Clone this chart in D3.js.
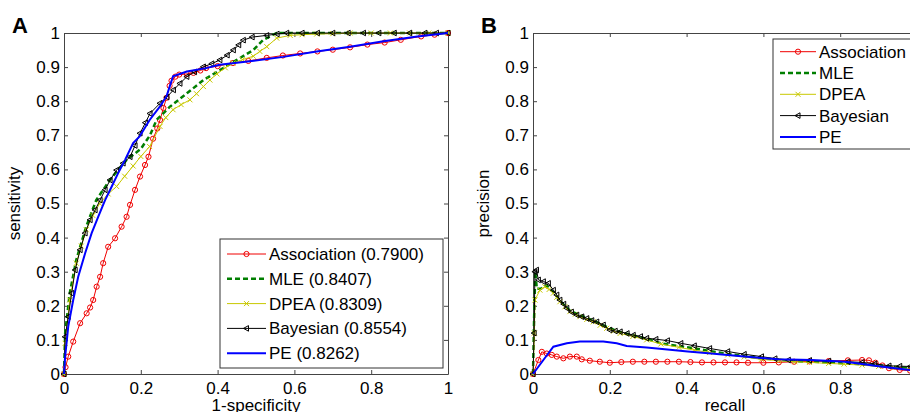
<!DOCTYPE html>
<html lang="en">
<head>
    <meta charset="UTF-8">
    <title>ROC and precision-recall</title>
    <script src="https://d3js.org/d3.v7.min.js"></script>
    <style>
        body { margin: 0; background: #fff; }
        svg { font-family: "Liberation Sans", Arial, sans-serif; }
        .tick text { font-size: 17px; fill: #000; }
        .tick line, .domain { stroke: #444; }
        .axis-label { font-size: 17px; }
        .panel-letter { font-size: 22px; font-weight: bold; }
        .legend text { font-size: 17px; }
    </style>
</head>
<body>
    <div id="chart"></div>

    <script>
        // series names, in drawing order
        const seriesNames = ["Association", "MLE", "DPEA", "Bayesian", "PE"];
        const aucLabels = ["0.7900", "0.8407", "0.8309", "0.8554", "0.8262"];
        const tickVals = [0, 0.1, 0.2, 0.3, 0.4, 0.5, 0.6, 0.7, 0.8, 0.9, 1];
        const xTickVals = [0, 0.2, 0.4, 0.6, 0.8, 1];

        // panel A: [1-specificity, sensitivity]
        const rocAssociation = [[0,0],[0.004,0.02],[0.011,0.051],[0.024,0.095],[0.042,0.149],[0.059,0.178],[0.068,0.195],[0.076,0.217],[0.085,0.256],[0.094,0.285],[0.102,0.325],[0.115,0.373],[0.133,0.398],[0.15,0.432],[0.163,0.461],[0.172,0.496],[0.185,0.54],[0.198,0.579],[0.211,0.613],[0.22,0.637],[0.232,0.69],[0.243,0.72],[0.25,0.745],[0.259,0.78],[0.267,0.81],[0.275,0.845],[0.28,0.86],[0.29,0.872],[0.30,0.878],[0.32,0.88],[0.337,0.883],[0.355,0.89],[0.37,0.897],[0.40,0.903],[0.44,0.912],[0.48,0.918],[0.528,0.927],[0.57,0.934],[0.615,0.94],[0.66,0.946],[0.70,0.951],[0.745,0.958],[0.79,0.966],[0.835,0.972],[0.877,0.98],[0.93,0.99],[0.965,0.995],[1,1]];
        const rocMLE = [[0,0],[0.003,0.12],[0.015,0.237],[0.032,0.335],[0.058,0.433],[0.084,0.51],[0.12,0.57],[0.163,0.628],[0.2,0.66],[0.224,0.70],[0.241,0.745],[0.276,0.784],[0.32,0.823],[0.363,0.862],[0.406,0.891],[0.45,0.921],[0.493,0.95],[0.519,0.98],[0.554,1],[1,1]];
        const rocDPEA = [[0,0],[0.003,0.09],[0.015,0.217],[0.032,0.325],[0.045,0.375],[0.058,0.423],[0.075,0.465],[0.093,0.5],[0.115,0.528],[0.137,0.55],[0.158,0.58],[0.18,0.61],[0.2,0.638],[0.223,0.667],[0.25,0.726],[0.265,0.752],[0.284,0.775],[0.305,0.79],[0.328,0.804],[0.345,0.822],[0.363,0.843],[0.38,0.862],[0.398,0.88],[0.42,0.898],[0.44,0.912],[0.465,0.922],[0.493,0.932],[0.51,0.946],[0.528,0.96],[0.554,0.985],[0.589,0.993],[0.62,0.995],[0.658,0.997],[0.7,0.998],[0.745,1],[0.8,1],[0.85,1],[0.9,1],[0.95,1],[1,1]];
        const rocBayesian = [[0,0],[0.003,0.109],[0.011,0.168],[0.02,0.237],[0.029,0.305],[0.042,0.364],[0.055,0.413],[0.068,0.452],[0.081,0.481],[0.094,0.51],[0.107,0.54],[0.12,0.569],[0.137,0.598],[0.154,0.618],[0.172,0.637],[0.185,0.67],[0.198,0.706],[0.212,0.737],[0.224,0.764],[0.25,0.794],[0.268,0.812],[0.285,0.833],[0.302,0.852],[0.32,0.872],[0.34,0.886],[0.363,0.901],[0.385,0.91],[0.406,0.921],[0.425,0.935],[0.441,0.95],[0.455,0.965],[0.467,0.979],[0.49,0.988],[0.528,0.993],[0.555,0.997],[0.58,1],[0.62,1],[0.66,1],[0.70,1],[0.74,1],[0.78,1],[0.82,1],[0.86,1],[0.90,1],[0.94,1],[0.97,1],[1,1]];
        const rocPE = [[0,0],[0.003,0.051],[0.011,0.139],[0.024,0.217],[0.037,0.285],[0.055,0.354],[0.072,0.413],[0.089,0.461],[0.107,0.51],[0.124,0.549],[0.141,0.589],[0.159,0.628],[0.18,0.677],[0.197,0.697],[0.223,0.745],[0.25,0.785],[0.267,0.814],[0.284,0.873],[0.32,0.887],[0.37,0.897],[0.405,0.907],[0.484,0.917],[0.571,0.93],[0.658,0.946],[0.745,0.96],[0.832,0.976],[0.92,0.99],[1,1]];

        // panel B: [recall, precision]
        const prAssociation = [[0,0],[0.014,0.041],[0.023,0.065],[0.036,0.06],[0.049,0.056],[0.062,0.051],[0.079,0.046],[0.096,0.051],[0.114,0.051],[0.127,0.043],[0.148,0.039],[0.174,0.036],[0.2,0.033],[0.23,0.035],[0.26,0.036],[0.29,0.036],[0.32,0.036],[0.35,0.036],[0.38,0.036],[0.41,0.035],[0.44,0.034],[0.47,0.034],[0.5,0.034],[0.53,0.034],[0.56,0.033],[0.6,0.033],[0.64,0.034],[0.68,0.036],[0.72,0.037],[0.77,0.038],[0.82,0.04],[0.857,0.041],[0.875,0.04],[0.892,0.033],[0.91,0.025],[0.927,0.017],[0.955,0.012],[0.982,0.01],[1,0.009]];
        const prMLE = [[0,0],[0.003,0.168],[0.006,0.3],[0.01,0.25],[0.02,0.25],[0.035,0.26],[0.053,0.24],[0.07,0.215],[0.096,0.186],[0.122,0.172],[0.157,0.157],[0.192,0.138],[0.227,0.123],[0.296,0.103],[0.333,0.09],[0.42,0.075],[0.507,0.059],[0.595,0.046],[0.682,0.038],[0.77,0.034],[0.857,0.029],[0.982,0.017],[1,0.016]];
        const prDPEA = [[0,0],[0.0035,0.12],[0.005,0.217],[0.018,0.246],[0.031,0.256],[0.042,0.248],[0.053,0.237],[0.062,0.225],[0.07,0.212],[0.083,0.197],[0.096,0.183],[0.11,0.175],[0.122,0.168],[0.14,0.16],[0.157,0.153],[0.175,0.143],[0.192,0.134],[0.21,0.126],[0.227,0.119],[0.26,0.11],[0.296,0.1],[0.333,0.088],[0.38,0.078],[0.42,0.07],[0.46,0.063],[0.507,0.056],[0.55,0.05],[0.595,0.043],[0.64,0.039],[0.682,0.036],[0.72,0.034],[0.77,0.031],[0.81,0.029],[0.857,0.026],[0.9,0.022],[0.94,0.018],[0.982,0.014],[1,0.013]];
        const prBayesian = [[0,0],[0.003,0.12],[0.005,0.3],[0.009,0.305],[0.014,0.276],[0.027,0.271],[0.04,0.266],[0.053,0.246],[0.062,0.232],[0.07,0.217],[0.08,0.205],[0.088,0.193],[0.1,0.182],[0.114,0.173],[0.127,0.168],[0.14,0.163],[0.153,0.157],[0.166,0.153],[0.183,0.144],[0.2,0.129],[0.214,0.126],[0.227,0.124],[0.245,0.119],[0.261,0.114],[0.28,0.11],[0.296,0.105],[0.32,0.102],[0.35,0.098],[0.385,0.09],[0.42,0.083],[0.46,0.075],[0.507,0.066],[0.55,0.058],[0.595,0.051],[0.63,0.045],[0.665,0.041],[0.72,0.04],[0.77,0.038],[0.82,0.036],[0.857,0.034],[0.89,0.03],[0.927,0.024],[0.955,0.023],[0.982,0.022],[1,0.021]];
        const prPE = [[0,0],[0.027,0.041],[0.053,0.08],[0.088,0.09],[0.122,0.095],[0.183,0.095],[0.218,0.09],[0.244,0.082],[0.296,0.078],[0.35,0.072],[0.403,0.066],[0.464,0.06],[0.55,0.051],[0.638,0.043],[0.726,0.041],[0.813,0.036],[0.9,0.023],[0.982,0.012],[1,0.01]];

        const rocData = [rocAssociation, rocMLE, rocDPEA, rocBayesian, rocPE];
        const prData = [prAssociation, prMLE, prDPEA, prBayesian, prPE];

        // line styles per series
        const styles = [
            { color: "#f00000", width: 1, dash: null, marker: "circle" },
            { color: "#007f00", width: 2.5, dash: "5,3", marker: null },
            { color: "#c8c800", width: 1, dash: null, marker: "x" },
            { color: "#000000", width: 1, dash: null, marker: "tri" },
            { color: "#0000ff", width: 2, dash: null, marker: null }
        ];

        const svg = d3.select("#chart").append("svg")
            .attr("width", 910).attr("height", 412);

        function drawMarker(g, type, color, px, py) {
            if (type === "circle") {
                g.append("circle").attr("cx", px).attr("cy", py).attr("r", 2.6)
                    .attr("fill", "none").attr("stroke", color).attr("stroke-width", 1);
            } else if (type === "x") {
                g.append("path").attr("d", `M${px-2.5},${py-2.5}L${px+2.5},${py+2.5}M${px-2.5},${py+2.5}L${px+2.5},${py-2.5}`)
                    .attr("stroke", color).attr("stroke-width", 1);
            } else if (type === "tri") {
                g.append("path").attr("d", `M${px-3},${py}L${px+2},${py-2.8}L${px+2},${py+2.8}Z`)
                    .attr("fill", "none").attr("stroke", color).attr("stroke-width", 1);
            }
        }

        function panel(left, top, w, h, data, letter, xLabel, yLabel) {
            const x = d3.scaleLinear().domain([0, 1]).range([left, left + w]);
            const y = d3.scaleLinear().domain([0, 1]).range([top + h, top]);
            const fmt = d3.format("~g");

            svg.append("g").attr("transform", `translate(0,${top + h})`)
                .call(d3.axisBottom(x).tickValues(xTickVals.filter(v => x(v) < 905)).tickFormat(fmt).tickSizeInner(-4).tickSizeOuter(0).tickPadding(8));
            svg.append("g").attr("transform", `translate(0,${top})`)
                .call(d3.axisTop(x).tickValues(xTickVals).tickFormat("").tickSizeInner(-4).tickSizeOuter(0));
            svg.append("g").attr("transform", `translate(${left},0)`)
                .call(d3.axisLeft(y).tickValues(tickVals).tickFormat(fmt).tickSizeInner(-4).tickSizeOuter(0).tickPadding(4));
            svg.append("g").attr("transform", `translate(${left + w},0)`)
                .call(d3.axisRight(y).tickValues(tickVals).tickFormat("").tickSizeInner(-4).tickSizeOuter(0));

            const line = d3.line().x(d => x(d[0])).y(d => y(d[1]));
            data.forEach((ser, i) => {
                const st = styles[i];
                const g = svg.append("g");
                g.append("path").datum(ser).attr("d", line)
                    .attr("fill", "none").attr("stroke", st.color)
                    .attr("stroke-width", st.width)
                    .attr("stroke-dasharray", st.dash);
                if (st.marker) ser.forEach(d => drawMarker(g, st.marker, st.color, x(d[0]), y(d[1])));
            });

            svg.append("text").attr("class", "panel-letter")
                .attr("x", left - 52).attr("y", top).text(letter);
            svg.append("text").attr("class", "axis-label")
                .attr("x", left + w / 2).attr("y", top + h + 37)
                .attr("text-anchor", "middle").text(xLabel);
            svg.append("text").attr("class", "axis-label")
                .attr("transform", `translate(${left - 44},${top + h / 2}) rotate(-90)`)
                .attr("text-anchor", "middle").text(yLabel);
            return { x, y };
        }

        function legend(bx, by, bw, bh, rowStep, firstRow, lineLen, labels) {
            const g = svg.append("g").attr("class", "legend");
            g.append("rect").attr("x", bx).attr("y", by).attr("width", bw).attr("height", bh)
                .attr("fill", "#fff").attr("stroke", "#333").attr("stroke-width", 1);
            labels.forEach((lab, i) => {
                const st = styles[i];
                const cy = by + firstRow + i * rowStep;
                const x0 = bx + 7, x1 = x0 + lineLen;
                g.append("line").attr("x1", x0).attr("x2", x1).attr("y1", cy).attr("y2", cy)
                    .attr("stroke", st.color).attr("stroke-width", st.width)
                    .attr("stroke-dasharray", st.dash);
                if (st.marker) drawMarker(g, st.marker, st.color, (x0 + x1) / 2, cy);
                g.append("text").attr("x", x1 + 3).attr("y", cy + 6).text(lab);
            });
        }

        panel(64, 33, 384, 341, rocData, "A", "1-specificity", "sensitivity");
        panel(533, 33, 384, 341, prData, "B", "recall", "precision");

        legend(220, 239, 223, 129, 24.8, 15, 39, seriesNames.map((n, i) => `${n} (${aucLabels[i]})`));
        legend(773, 39, 150, 110, 21.3, 12.7, 36, seriesNames);
    </script>
</body>
</html>
